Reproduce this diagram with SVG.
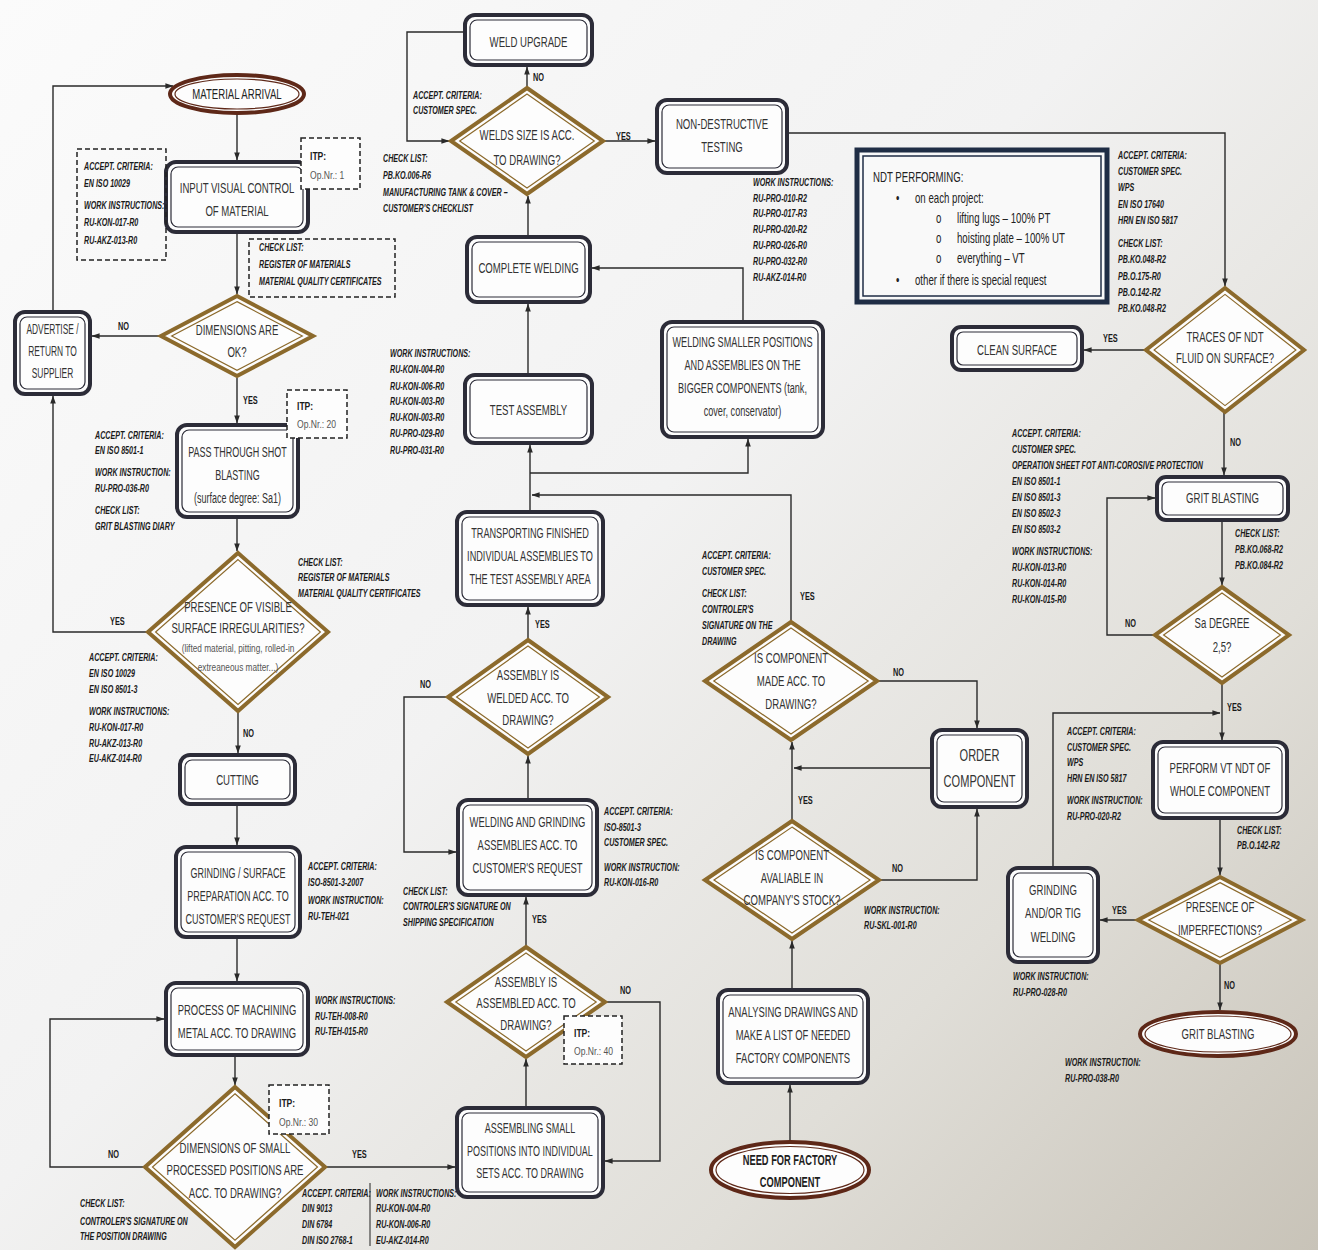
<svg xmlns="http://www.w3.org/2000/svg" width="1318" height="1250" viewBox="0 0 1318 1250">
<defs>
<linearGradient id="bg" gradientUnits="userSpaceOnUse" x1="0" y1="0" x2="1318" y2="1250">
<stop offset="0" stop-color="#fbfbfb"/><stop offset=".45" stop-color="#f2f2f2"/><stop offset=".75" stop-color="#e0ded8"/><stop offset="1" stop-color="#c8c3b8"/>
</linearGradient>
<marker id="ah" viewBox="0 0 10 10" refX="9.5" refY="5" markerWidth="8" markerHeight="8" markerUnits="userSpaceOnUse" orient="auto"><path d="M0,1.5 L10,5 L0,8.5 z" fill="#2a2a2a"/></marker>
<style>
.bo{fill:#fdfdfd;stroke:#2c2c38;stroke-width:4}
.bi{fill:none;stroke:#2c2c38;stroke-width:1.2}
.do{fill:#fdfdfd;stroke:#8c6a2c;stroke-width:4}
.di{fill:none;stroke:#8c6a2c;stroke-width:1.2}
.eo{fill:#fdfdfd;stroke:#5e2818;stroke-width:4}
.ei{fill:none;stroke:#5e2818;stroke-width:1.2}
.nb{fill:#f9f9f9;stroke:#1f2d45;stroke-width:5}
.nbi{fill:none;stroke:#1f2d45;stroke-width:1.5}
.ds{fill:#fdfdfd;stroke:#222;stroke-width:1.5;stroke-dasharray:5 3}
.dn{fill:none;stroke:#222;stroke-width:1.5;stroke-dasharray:5 3}
.c{fill:none;stroke:#2a2a2a;stroke-width:1.4}
.ca{marker-end:url(#ah)}
text{font-family:"Liberation Sans",Arial,sans-serif}
.t{font-size:15px;fill:#333;text-anchor:middle}
.tb{font-weight:bold;fill:#1e1e1e}
.a{font-size:10.5px;font-weight:bold;font-style:italic;fill:#1a1a1a}
.l{font-size:11.5px;font-weight:bold;fill:#1a1a1a}
.ip{font-size:11px;fill:#555}
.ipb{font-weight:bold;fill:#1a1a1a}
.sm{font-size:11.5px;fill:#555;text-anchor:middle}
.nt{font-size:14px;fill:#222}
</style>
</defs>
<rect width="1318" height="1250" fill="url(#bg)"/>

<g id="connectors">
<path class="c ca" d="M53,312 V86 H173"/>
<path class="c ca" d="M237,113 V160"/>
<path class="c ca" d="M237,232 V294"/>
<path class="c ca" d="M161,336 H92"/>
<path class="c ca" d="M237,378 V423"/>
<path class="c ca" d="M237,517 V551"/>
<path class="c ca" d="M148,632 H53 V396"/>
<path class="c ca" d="M238,711 V753"/>
<path class="c ca" d="M237,804 V845"/>
<path class="c ca" d="M237,937 V981"/>
<path class="c ca" d="M235,1055 V1085"/>
<path class="c ca" d="M145,1167 H50 V1019 H164"/>
<path class="c ca" d="M325,1167 H455"/>
<path class="c ca" d="M526,1108 V1059"/>
<path class="c ca" d="M605,1002 H660 V1161 H605"/>
<path class="c ca" d="M526,947 V897"/>
<path class="c ca" d="M528,800 V756"/>
<path class="c ca" d="M448,697 H404 V852 H456"/>
<path class="c ca" d="M528,640 V607"/>
<path class="c ca" d="M530,512 V445"/>
<path class="c ca" d="M530,473 H748 V439"/>
<path class="c ca" d="M791,622 V495 H532"/>
<path class="c ca" d="M528,375 V304"/>
<path class="c ca" d="M743,322 V268 H592"/>
<path class="c ca" d="M528,237 V196"/>
<path class="c ca" d="M527,88 V67"/>
<path class="c ca" d="M465,32 H407 V141 H449"/>
<path class="c ca" d="M605,141 H655"/>
<path class="c ca" d="M787,133 H1225 V286"/>
<path class="c ca" d="M1146,350 H1084"/>
<path class="c ca" d="M1224,412 V475"/>
<path class="c ca" d="M1222,520 V585"/>
<path class="c ca" d="M1155,635 H1107 V498 H1155"/>
<path class="c ca" d="M1222,683 V740"/>
<path class="c ca" d="M1053,868 V713 H1220"/>
<path class="c ca" d="M1220,818 V875"/>
<path class="c ca" d="M1138,920 H1100"/>
<path class="c ca" d="M1220,963 V1010"/>
<path class="c ca" d="M790,1142 V1085"/>
<path class="c ca" d="M792,990 V941"/>
<path class="c ca" d="M792,821 V742"/>
<path class="c ca" d="M932,768 H794"/>
<path class="c ca" d="M877,681 H977 V728"/>
<path class="c ca" d="M879,880 H977 V809"/>
<g class="l">
<text transform="matrix(.64 0 0 1 118 0)" y="330">NO</text>
<text transform="matrix(.64 0 0 1 243 0)" y="404">YES</text>
<text transform="matrix(.64 0 0 1 110 0)" y="625">YES</text>
<text transform="matrix(.64 0 0 1 243 0)" y="737">NO</text>
<text transform="matrix(.64 0 0 1 108 0)" y="1158">NO</text>
<text transform="matrix(.64 0 0 1 352 0)" y="1158">YES</text>
<text transform="matrix(.64 0 0 1 620 0)" y="994">NO</text>
<text transform="matrix(.64 0 0 1 532 0)" y="923">YES</text>
<text transform="matrix(.64 0 0 1 420 0)" y="688">NO</text>
<text transform="matrix(.64 0 0 1 535 0)" y="628">YES</text>
<text transform="matrix(.64 0 0 1 800 0)" y="600">YES</text>
<text transform="matrix(.64 0 0 1 533 0)" y="81">NO</text>
<text transform="matrix(.64 0 0 1 616 0)" y="140">YES</text>
<text transform="matrix(.64 0 0 1 1103 0)" y="342">YES</text>
<text transform="matrix(.64 0 0 1 1230 0)" y="446">NO</text>
<text transform="matrix(.64 0 0 1 1125 0)" y="627">NO</text>
<text transform="matrix(.64 0 0 1 1227 0)" y="711">YES</text>
<text transform="matrix(.64 0 0 1 1112 0)" y="914">YES</text>
<text transform="matrix(.64 0 0 1 1224 0)" y="989">NO</text>
<text transform="matrix(.64 0 0 1 893 0)" y="676">NO</text>
<text transform="matrix(.64 0 0 1 892 0)" y="872">NO</text>
<text transform="matrix(.64 0 0 1 798 0)" y="804">YES</text>
</g>
</g>

<g id="n-arrival"><ellipse class="eo" cx="237" cy="94" rx="67" ry="19"/><ellipse class="ei" cx="237" cy="94" rx="62" ry="15"/>
<text class="t" style="fill:#222" transform="matrix(.64 0 0 1 237 0)" y="99">MATERIAL ARRIVAL</text></g>

<g id="n-input"><rect class="bo" x="166" y="162" width="142" height="70" rx="10"/><rect class="bi" x="171" y="167" width="132" height="60" rx="7"/>
<text class="t" transform="matrix(.64 0 0 1 237 0)"><tspan x="0" y="193">INPUT VISUAL CONTROL</tspan><tspan x="0" y="216">OF MATERIAL</tspan></text></g>

<g id="n-dim"><polygon class="do" points="237,296 313,336 237,376 161,336"/><polygon class="di" points="237,301.6 302.3,336 237,370.4 171.7,336"/>
<text class="t" transform="matrix(.64 0 0 1 237 0)"><tspan x="0" y="335">DIMENSIONS ARE</tspan><tspan x="0" y="357">OK?</tspan></text></g>

<g id="n-advertise"><rect class="bo" x="15" y="312" width="75" height="82" rx="10"/><rect class="bi" x="20" y="317" width="65" height="72" rx="7"/>
<text class="t" transform="matrix(.56 0 0 1 52.5 0)"><tspan x="0" y="334">ADVERTISE /</tspan><tspan x="0" y="356">RETURN TO</tspan><tspan x="0" y="378">SUPPLIER</tspan></text></g>

<g id="n-shot"><rect class="bo" x="177" y="425" width="121" height="92" rx="10"/><rect class="bi" x="182" y="430" width="111" height="82" rx="7"/>
<text class="t" transform="matrix(.6 0 0 1 237.5 0)"><tspan x="0" y="457">PASS THROUGH SHOT</tspan><tspan x="0" y="480">BLASTING</tspan><tspan x="0" y="503">(surface degree: Sa1)</tspan></text></g>

<g id="n-presence"><polygon class="do" points="238,553 328,632 238,711 148,632"/><polygon class="di" points="238,559.6 320.4,632 238,704.4 155.6,632"/>
<text class="t" transform="matrix(.64 0 0 1 238 0)"><tspan x="0" y="612">PRESENCE OF VISIBLE</tspan><tspan x="0" y="633">SURFACE IRREGULARITIES?</tspan></text>
<text class="sm" transform="matrix(.72 0 0 1 238 0)"><tspan x="0" y="652">(lifted material, pitting, rolled-in</tspan><tspan x="0" y="671">extreaneous matter...)</tspan></text></g>

<g id="n-cutting"><rect class="bo" x="180" y="755" width="115" height="49" rx="10"/><rect class="bi" x="185" y="760" width="105" height="39" rx="7"/>
<text class="t" transform="matrix(.64 0 0 1 237.5 0)" y="785">CUTTING</text></g>

<g id="n-grinding"><rect class="bo" x="176" y="847" width="124" height="90" rx="10"/><rect class="bi" x="181" y="852" width="114" height="80" rx="7"/>
<text class="t" transform="matrix(.6 0 0 1 238 0)"><tspan x="0" y="878">GRINDING / SURFACE</tspan><tspan x="0" y="901">PREPARATION ACC.  TO</tspan><tspan x="0" y="924">CUSTOMER'S REQUEST</tspan></text></g>

<g id="n-machining"><rect class="bo" x="166" y="983" width="142" height="72" rx="10"/><rect class="bi" x="171" y="988" width="132" height="62" rx="7"/>
<text class="t" transform="matrix(.63 0 0 1 237 0)"><tspan x="0" y="1015">PROCESS OF MACHINING</tspan><tspan x="0" y="1038">METAL ACC. TO DRAWING</tspan></text></g>

<g id="n-dimsmall"><polygon class="do" points="235,1087 325,1167 235,1247 145,1167"/><polygon class="di" points="235,1093.7 317.5,1167 235,1240.3 152.5,1167"/>
<text class="t" transform="matrix(.64 0 0 1 235 0)"><tspan x="0" y="1153">DIMENSIONS OF SMALL</tspan><tspan x="0" y="1175">PROCESSED POSITIONS ARE</tspan><tspan x="0" y="1198">ACC. TO DRAWING?</tspan></text></g>

<g id="n-assembling"><rect class="bo" x="457" y="1108" width="146" height="89" rx="10"/><rect class="bi" x="462" y="1113" width="136" height="79" rx="7"/>
<text class="t" transform="matrix(.6 0 0 1 530 0)"><tspan x="0" y="1133">ASSEMBLING SMALL</tspan><tspan x="0" y="1156">POSITIONS INTO INDIVIDUAL</tspan><tspan x="0" y="1178">SETS ACC. TO DRAWING</tspan></text></g>

<g id="n-assembled"><polygon class="do" points="526,947 605,1002 526,1057 447,1002"/><polygon class="di" points="526,953.1 596.2,1002 526,1050.9 455.8,1002"/>
<text class="t" transform="matrix(.64 0 0 1 526 0)"><tspan x="0" y="987">ASSEMBLY IS</tspan><tspan x="0" y="1008">ASSEMBLED ACC. TO</tspan><tspan x="0" y="1030">DRAWING?</tspan></text></g>

<g id="n-weldgrind"><rect class="bo" x="458" y="800" width="139" height="95" rx="10"/><rect class="bi" x="463" y="805" width="129" height="85" rx="7"/>
<text class="t" transform="matrix(.63 0 0 1 527.5 0)"><tspan x="0" y="827">WELDING AND GRINDING</tspan><tspan x="0" y="850">ASSEMBLIES ACC. TO</tspan><tspan x="0" y="873">CUSTOMER'S REQUEST</tspan></text></g>

<g id="n-welded"><polygon class="do" points="528,640 608,697 528,754 448,697"/><polygon class="di" points="528,646.1 599.4,697 528,747.9 456.6,697"/>
<text class="t" transform="matrix(.64 0 0 1 528 0)"><tspan x="0" y="680">ASSEMBLY IS</tspan><tspan x="0" y="703">WELDED ACC. TO</tspan><tspan x="0" y="725">DRAWING?</tspan></text></g>

<g id="n-transport"><rect class="bo" x="457" y="512" width="146" height="93" rx="10"/><rect class="bi" x="462" y="517" width="136" height="83" rx="7"/>
<text class="t" transform="matrix(.61 0 0 1 530 0)"><tspan x="0" y="538">TRANSPORTING FINISHED</tspan><tspan x="0" y="561">INDIVIDUAL ASSEMBLIES TO</tspan><tspan x="0" y="584">THE TEST ASSEMBLY AREA</tspan></text></g>

<g id="n-test"><rect class="bo" x="465" y="375" width="127" height="68" rx="10"/><rect class="bi" x="470" y="380" width="117" height="58" rx="7"/>
<text class="t" transform="matrix(.64 0 0 1 528.5 0)" y="415">TEST ASSEMBLY</text></g>

<g id="n-smaller"><rect class="bo" x="662" y="322" width="161" height="115" rx="10"/><rect class="bi" x="667" y="327" width="151" height="105" rx="7"/>
<text class="t" transform="matrix(.61 0 0 1 742.5 0)"><tspan x="0" y="347">WELDING SMALLER POSITIONS</tspan><tspan x="0" y="370">AND ASSEMBLIES ON THE</tspan><tspan x="0" y="393">BIGGER COMPONENTS (tank,</tspan><tspan x="0" y="416">cover, conservator)</tspan></text></g>

<g id="n-complete"><rect class="bo" x="467" y="237" width="123" height="65" rx="10"/><rect class="bi" x="472" y="242" width="113" height="55" rx="7"/>
<text class="t" transform="matrix(.64 0 0 1 528.5 0)" y="273">COMPLETE WELDING</text></g>

<g id="n-welds"><polygon class="do" points="527,88 603,141 527,194 451,141"/><polygon class="di" points="527,94.1 594.3,141 527,187.9 459.7,141"/>
<text class="t" transform="matrix(.64 0 0 1 527 0)"><tspan x="0" y="140">WELDS SIZE IS ACC.</tspan><tspan x="0" y="165">TO DRAWING?</tspan></text></g>

<g id="n-upgrade"><rect class="bo" x="465" y="15" width="127" height="50" rx="10"/><rect class="bi" x="470" y="20" width="117" height="40" rx="7"/>
<text class="t" transform="matrix(.64 0 0 1 528.5 0)" y="47">WELD UPGRADE</text></g>

<g id="n-ndt"><rect class="bo" x="657" y="100" width="130" height="73" rx="10"/><rect class="bi" x="662" y="105" width="120" height="63" rx="7"/>
<text class="t" transform="matrix(.64 0 0 1 722 0)"><tspan x="0" y="129">NON-DESTRUCTIVE</tspan><tspan x="0" y="152">TESTING</tspan></text></g>

<g id="n-ndtperf"><rect class="nb" x="857" y="150" width="250" height="152"/><rect class="nbi" x="863" y="156" width="238" height="140"/>
<text class="nt" transform="matrix(.69 0 0 1 873 0)" y="182">NDT PERFORMING:</text>
<text class="nt" transform="matrix(.69 0 0 1 896 0)"><tspan x="0" y="203">•</tspan><tspan x="0" y="285">•</tspan></text>
<text class="nt" transform="matrix(.69 0 0 1 915 0)"><tspan x="0" y="203">on each project:</tspan><tspan x="0" y="285">other if there is special request</tspan></text>
<text class="nt" transform="matrix(.69 0 0 1 936 0)"><tspan x="0" y="223">o</tspan><tspan x="0" y="243">o</tspan><tspan x="0" y="263">o</tspan></text>
<text class="nt" transform="matrix(.69 0 0 1 957 0)"><tspan x="0" y="223">lifting lugs – 100% PT</tspan><tspan x="0" y="243">hoisting plate – 100% UT</tspan><tspan x="0" y="263">everything – VT</tspan></text></g>

<g id="n-traces"><polygon class="do" points="1225,288 1304,350 1225,412 1146,350"/><polygon class="di" points="1225,294.4 1295.9,350 1225,405.6 1154.1,350"/>
<text class="t" transform="matrix(.64 0 0 1 1225 0)"><tspan x="0" y="342">TRACES OF NDT</tspan><tspan x="0" y="363">FLUID ON SURFACE?</tspan></text></g>

<g id="n-clean"><rect class="bo" x="952" y="327" width="130" height="43" rx="9"/><rect class="bi" x="957" y="332" width="120" height="33" rx="6"/>
<text class="t" transform="matrix(.64 0 0 1 1017 0)" y="355">CLEAN SURFACE</text></g>

<g id="n-gritbox"><rect class="bo" x="1157" y="477" width="131" height="43" rx="9"/><rect class="bi" x="1162" y="482" width="121" height="33" rx="6"/>
<text class="t" transform="matrix(.64 0 0 1 1222.5 0)" y="503">GRIT BLASTING</text></g>

<g id="n-sa"><polygon class="do" points="1222,587 1289,635 1222,683 1155,635"/><polygon class="di" points="1222,593.1 1280.4,635 1222,676.9 1163.6,635"/>
<text class="t" transform="matrix(.64 0 0 1 1222 0)"><tspan x="0" y="628">Sa DEGREE</tspan><tspan x="0" y="652">2,5?</tspan></text></g>

<g id="n-perform"><rect class="bo" x="1153" y="742" width="134" height="76" rx="10"/><rect class="bi" x="1158" y="747" width="124" height="66" rx="7"/>
<text class="t" transform="matrix(.64 0 0 1 1220 0)"><tspan x="0" y="773">PERFORM VT NDT OF</tspan><tspan x="0" y="796">WHOLE COMPONENT</tspan></text></g>

<g id="n-imperf"><polygon class="do" points="1220,877 1302,920 1220,963 1138,920"/><polygon class="di" points="1220,882.6 1291.2,920 1220,957.4 1148.8,920"/>
<text class="t" transform="matrix(.64 0 0 1 1220 0)"><tspan x="0" y="912">PRESENCE OF</tspan><tspan x="0" y="935">IMPERFECTIONS?</tspan></text></g>

<g id="n-tig"><rect class="bo" x="1008" y="868" width="90" height="94" rx="10"/><rect class="bi" x="1013" y="873" width="80" height="84" rx="7"/>
<text class="t" transform="matrix(.64 0 0 1 1053 0)"><tspan x="0" y="895">GRINDING</tspan><tspan x="0" y="918">AND/OR TIG</tspan><tspan x="0" y="942">WELDING</tspan></text></g>

<g id="n-gritend"><ellipse class="eo" cx="1218" cy="1034" rx="78" ry="22"/><ellipse class="ei" cx="1218" cy="1034" rx="73" ry="18"/>
<text class="t" transform="matrix(.64 0 0 1 1218 0)" y="1039">GRIT BLASTING</text></g>

<g id="n-order"><rect class="bo" x="932" y="730" width="95" height="77" rx="10"/><rect class="bi" x="937" y="735" width="85" height="67" rx="7"/>
<text class="t" style="font-size:17px" transform="matrix(.65 0 0 1 979.5 0)"><tspan x="0" y="761">ORDER</tspan><tspan x="0" y="787">COMPONENT</tspan></text></g>

<g id="n-made"><polygon class="do" points="791,622 877,681 791,740 705,681"/><polygon class="di" points="791,628.1 868.2,681 791,733.9 713.8,681"/>
<text class="t" transform="matrix(.64 0 0 1 791 0)"><tspan x="0" y="663">IS COMPONENT</tspan><tspan x="0" y="686">MADE ACC. TO</tspan><tspan x="0" y="709">DRAWING?</tspan></text></g>

<g id="n-avail"><polygon class="do" points="792,821 879,880 792,939 705,880"/><polygon class="di" points="792,827.1 870,880 792,932.9 714,880"/>
<text class="t" transform="matrix(.64 0 0 1 792 0)"><tspan x="0" y="860">IS COMPONENT</tspan><tspan x="0" y="883">AVALIABLE IN</tspan><tspan x="0" y="905">COMPANY'S STOCK?</tspan></text></g>

<g id="n-analysing"><rect class="bo" x="718" y="990" width="150" height="93" rx="10"/><rect class="bi" x="723" y="995" width="140" height="83" rx="7"/>
<text class="t" transform="matrix(.63 0 0 1 793 0)"><tspan x="0" y="1017">ANALYSING DRAWINGS AND</tspan><tspan x="0" y="1040">MAKE A LIST OF NEEDED</tspan><tspan x="0" y="1063">FACTORY COMPONENTS</tspan></text></g>

<g id="n-need"><ellipse class="eo" cx="790" cy="1170" rx="79" ry="28"/><ellipse class="ei" cx="790" cy="1170" rx="74" ry="23.5"/>
<text class="t tb" transform="matrix(.62 0 0 1 790 0)"><tspan x="0" y="1165">NEED FOR FACTORY</tspan><tspan x="0" y="1187">COMPONENT</tspan></text></g>

<g id="itp">
<rect class="ds" x="301" y="138" width="59" height="51"/>
<text class="ip" transform="matrix(.78 0 0 1 310 0)"><tspan class="ipb" x="0" y="160">ITP:</tspan><tspan x="0" y="179">Op.Nr.: 1</tspan></text>
<rect class="ds" x="287" y="390" width="60" height="48"/>
<text class="ip" transform="matrix(.78 0 0 1 297 0)"><tspan class="ipb" x="0" y="410">ITP:</tspan><tspan x="0" y="428">Op.Nr.: 20</tspan></text>
<rect class="ds" x="269" y="1085" width="60" height="49"/>
<text class="ip" transform="matrix(.78 0 0 1 279 0)"><tspan class="ipb" x="0" y="1107">ITP:</tspan><tspan x="0" y="1126">Op.Nr.: 30</tspan></text>
<rect class="ds" x="564" y="1016" width="58" height="48"/>
<text class="ip" transform="matrix(.78 0 0 1 574 0)"><tspan class="ipb" x="0" y="1037">ITP:</tspan><tspan x="0" y="1055">Op.Nr.: 40</tspan></text>
</g>

<g id="annotations">
<rect class="dn" x="77" y="149" width="89" height="111"/>
<rect class="dn" x="249" y="239" width="146" height="58"/>
<line x1="370" y1="1183" x2="370" y2="1246" stroke="#222" stroke-width="1"/>
<g class="a">
<text transform="matrix(.68 0 0 1 84 0)"><tspan x="0" y="170">ACCEPT. CRITERIA:</tspan><tspan x="0" y="187">EN ISO 10029</tspan><tspan x="0" y="209">WORK INSTRUCTIONS:</tspan><tspan x="0" y="226">RU-KON-017-R0</tspan><tspan x="0" y="244">RU-AKZ-013-R0</tspan></text>
<text transform="matrix(.68 0 0 1 259 0)"><tspan x="0" y="251">CHECK LIST:</tspan><tspan x="0" y="268">REGISTER OF MATERIALS</tspan><tspan x="0" y="285">MATERIAL QUALITY CERTIFICATES</tspan></text>
<text transform="matrix(.68 0 0 1 95 0)"><tspan x="0" y="439">ACCEPT. CRITERIA:</tspan><tspan x="0" y="454">EN ISO 8501-1</tspan><tspan x="0" y="476">WORK INSTRUCTION:</tspan><tspan x="0" y="492">RU-PRO-036-R0</tspan><tspan x="0" y="514">CHECK LIST:</tspan><tspan x="0" y="530">GRIT BLASTING DIARY</tspan></text>
<text transform="matrix(.68 0 0 1 298 0)"><tspan x="0" y="566">CHECK LIST:</tspan><tspan x="0" y="581">REGISTER OF MATERIALS</tspan><tspan x="0" y="597">MATERIAL QUALITY CERTIFICATES</tspan></text>
<text transform="matrix(.68 0 0 1 89 0)"><tspan x="0" y="661">ACCEPT. CRITERIA:</tspan><tspan x="0" y="677">EN ISO 10029</tspan><tspan x="0" y="693">EN ISO 8501-3</tspan><tspan x="0" y="715">WORK INSTRUCTIONS:</tspan><tspan x="0" y="731">RU-KON-017-R0</tspan><tspan x="0" y="747">RU-AKZ-013-R0</tspan><tspan x="0" y="762">EU-AKZ-014-R0</tspan></text>
<text transform="matrix(.68 0 0 1 308 0)"><tspan x="0" y="870">ACCEPT. CRITERIA:</tspan><tspan x="0" y="886">ISO-8501-3-2007</tspan><tspan x="0" y="904">WORK INSTRUCTION:</tspan><tspan x="0" y="920">RU-TEH-021</tspan></text>
<text transform="matrix(.68 0 0 1 315 0)"><tspan x="0" y="1004">WORK INSTRUCTIONS:</tspan><tspan x="0" y="1020">RU-TEH-008-R0</tspan><tspan x="0" y="1035">RU-TEH-015-R0</tspan></text>
<text transform="matrix(.68 0 0 1 80 0)"><tspan x="0" y="1207">CHECK LIST:</tspan><tspan x="0" y="1225">CONTROLER'S SIGNATURE ON</tspan><tspan x="0" y="1240">THE POSITION DRAWING</tspan></text>
<text transform="matrix(.68 0 0 1 302 0)"><tspan x="0" y="1197">ACCEPT. CRITERIA:</tspan><tspan x="0" y="1212">DIN 9013</tspan><tspan x="0" y="1228">DIN 6784</tspan><tspan x="0" y="1244">DIN ISO 2768-1</tspan></text>
<text transform="matrix(.68 0 0 1 376 0)"><tspan x="0" y="1197">WORK INSTRUCTIONS:</tspan><tspan x="0" y="1212">RU-KON-004-R0</tspan><tspan x="0" y="1228">RU-KON-006-R0</tspan><tspan x="0" y="1244">EU-AKZ-014-R0</tspan></text>
<text transform="matrix(.68 0 0 1 403 0)"><tspan x="0" y="895">CHECK LIST:</tspan><tspan x="0" y="910">CONTROLER'S SIGNATURE ON</tspan><tspan x="0" y="926">SHIPPING SPECIFICATION</tspan></text>
<text transform="matrix(.68 0 0 1 604 0)"><tspan x="0" y="815">ACCEPT. CRITERIA:</tspan><tspan x="0" y="831">ISO-8501-3</tspan><tspan x="0" y="846">CUSTOMER SPEC.</tspan><tspan x="0" y="871">WORK INSTRUCTION:</tspan><tspan x="0" y="886">RU-KON-016-R0</tspan></text>
<text transform="matrix(.68 0 0 1 864 0)"><tspan x="0" y="914">WORK INSTRUCTION:</tspan><tspan x="0" y="929">RU-SKL-001-R0</tspan></text>
<text transform="matrix(.68 0 0 1 702 0)"><tspan x="0" y="559">ACCEPT. CRITERIA:</tspan><tspan x="0" y="575">CUSTOMER SPEC.</tspan><tspan x="0" y="597">CHECK LIST:</tspan><tspan x="0" y="613">CONTROLER'S</tspan><tspan x="0" y="629">SIGNATURE ON THE</tspan><tspan x="0" y="645">DRAWING</tspan></text>
<text transform="matrix(.68 0 0 1 390 0)"><tspan x="0" y="357">WORK INSTRUCTIONS:</tspan><tspan x="0" y="373">RU-KON-004-R0</tspan><tspan x="0" y="390">RU-KON-006-R0</tspan><tspan x="0" y="405">RU-KON-003-R0</tspan><tspan x="0" y="421">RU-KON-003-R0</tspan><tspan x="0" y="437">RU-PRO-029-R0</tspan><tspan x="0" y="454">RU-PRO-031-R0</tspan></text>
<text transform="matrix(.68 0 0 1 413 0)"><tspan x="0" y="99">ACCEPT. CRITERIA:</tspan><tspan x="0" y="114">CUSTOMER SPEC.</tspan></text>
<text transform="matrix(.68 0 0 1 383 0)"><tspan x="0" y="162">CHECK LIST:</tspan><tspan x="0" y="179">PB.KO.006-R6</tspan><tspan x="0" y="196">MANUFACTURING TANK &amp; COVER –</tspan><tspan x="0" y="212">CUSTOMER'S CHECKLIST</tspan></text>
<text transform="matrix(.68 0 0 1 753 0)"><tspan x="0" y="186">WORK INSTRUCTIONS:</tspan><tspan x="0" y="202">RU-PRO-010-R2</tspan><tspan x="0" y="217">RU-PRO-017-R3</tspan><tspan x="0" y="233">RU-PRO-020-R2</tspan><tspan x="0" y="249">RU-PRO-026-R0</tspan><tspan x="0" y="265">RU-PRO-032-R0</tspan><tspan x="0" y="281">RU-AKZ-014-R0</tspan></text>
<text transform="matrix(.68 0 0 1 1118 0)"><tspan x="0" y="159">ACCEPT. CRITERIA:</tspan><tspan x="0" y="175">CUSTOMER SPEC.</tspan><tspan x="0" y="191">WPS</tspan><tspan x="0" y="208">EN ISO 17640</tspan><tspan x="0" y="224">HRN EN ISO 5817</tspan><tspan x="0" y="247">CHECK LIST:</tspan><tspan x="0" y="263">PB.KO.048-R2</tspan><tspan x="0" y="280">PB.O.175-R0</tspan><tspan x="0" y="296">PB.O.142-R2</tspan><tspan x="0" y="312">PB.KO.048-R2</tspan></text>
<text transform="matrix(.68 0 0 1 1012 0)"><tspan x="0" y="437">ACCEPT. CRITERIA:</tspan><tspan x="0" y="453">CUSTOMER SPEC.</tspan><tspan x="0" y="469">OPERATION SHEET FOT ANTI-COROSIVE PROTECTION</tspan><tspan x="0" y="485">EN ISO 8501-1</tspan><tspan x="0" y="501">EN ISO 8501-3</tspan><tspan x="0" y="517">EN ISO 8502-3</tspan><tspan x="0" y="533">EN ISO 8503-2</tspan><tspan x="0" y="555">WORK INSTRUCTIONS:</tspan><tspan x="0" y="571">RU-KON-013-R0</tspan><tspan x="0" y="587">RU-KON-014-R0</tspan><tspan x="0" y="603">RU-KON-015-R0</tspan></text>
<text transform="matrix(.68 0 0 1 1235 0)"><tspan x="0" y="537">CHECK LIST:</tspan><tspan x="0" y="553">PB.KO.068-R2</tspan><tspan x="0" y="569">PB.KO.084-R2</tspan></text>
<text transform="matrix(.68 0 0 1 1067 0)"><tspan x="0" y="735">ACCEPT. CRITERIA:</tspan><tspan x="0" y="751">CUSTOMER SPEC.</tspan><tspan x="0" y="766">WPS</tspan><tspan x="0" y="782">HRN EN ISO 5817</tspan><tspan x="0" y="804">WORK INSTRUCTION:</tspan><tspan x="0" y="820">RU-PRO-020-R2</tspan></text>
<text transform="matrix(.68 0 0 1 1237 0)"><tspan x="0" y="834">CHECK LIST:</tspan><tspan x="0" y="849">PB.O.142-R2</tspan></text>
<text transform="matrix(.68 0 0 1 1013 0)"><tspan x="0" y="980">WORK INSTRUCTION:</tspan><tspan x="0" y="996">RU-PRO-028-R0</tspan></text>
<text transform="matrix(.68 0 0 1 1065 0)"><tspan x="0" y="1066">WORK INSTRUCTION:</tspan><tspan x="0" y="1082">RU-PRO-038-R0</tspan></text>
</g>
</g>
</svg>
